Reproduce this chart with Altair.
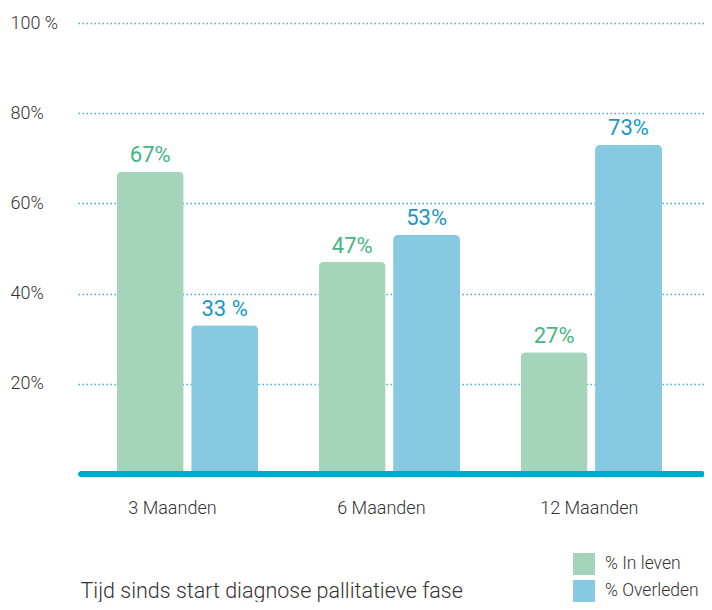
import altair as alt
import pandas as pd

categories = ["3 Maanden", "6 Maanden", "12 Maanden"]
series = ["% In leven", "% Overleden"]
in_leven = [67, 47, 27]
overleden = [33, 53, 73]
label_in_leven = ["67%", "47%", "27%"]
label_overleden = ["33 %", "53%", "73%"]
y_ticks = [20, 40, 60, 80, 100]

rows = []
for i, c in enumerate(categories):
    rows.append({"cat": c, "series": series[0], "value": in_leven[i], "label": label_in_leven[i]})
    rows.append({"cat": c, "series": series[1], "value": overleden[i], "label": label_overleden[i]})
df = pd.DataFrame(rows)

GREEN = "#a4d4ba"
BLUE = "#87c9e0"
GREEN_TXT = "#45b583"
BLUE_TXT = "#1798c2"
FONT = "Roboto"

W, H = 626, 451

x_enc = alt.X(
    "cat:N", sort=categories,
    scale=alt.Scale(paddingInner=0.3, paddingOuter=0.2, align=0.48),
    axis=alt.Axis(
        title="Tijd sinds start diagnose pallitatieve fase",
        titleAnchor="start", titleAlign="left", titleX=2, titleY=123,
        titleBaseline="alphabetic", titleFontSize=21.5, titleFontWeight=300,
        titleColor="#333333", titleFont=FONT,
        labelAngle=0, labelFontSize=18, labelFontWeight=300, labelFont=FONT,
        labelColor="#333333", labelPadding=25, domain=False, ticks=False,
        labelOffset={"condition": [
            {"test": "datum.value === '3 Maanden'", "value": -15},
            {"test": "datum.value === '6 Maanden'", "value": -8},
        ], "value": -2},
    ),
)
xoff = alt.XOffset("series:N", sort=series, scale=alt.Scale(paddingInner=0.1))

y_axis = alt.Axis(
    values=y_ticks, grid=True, gridColor="#3fb0d0", gridDash=[1.5, 2.5], gridWidth=1.5,
    domain=False, ticks=False, title=None,
    labelAlign="left", labelPadding=68, labelBaseline="middle",
    labelFontSize=18, labelFontWeight=300, labelFont=FONT, labelColor="#333333",
    labelExpr="datum.value == 100 ? '100 %' : datum.value + '%'",
)
y_scale = alt.Scale(domain=[0, 100], nice=False)

bars = alt.Chart(df).mark_bar(
    cornerRadiusTopLeft=5, cornerRadiusTopRight=5
).encode(
    x=x_enc, xOffset=xoff,
    y=alt.Y("value:Q", scale=y_scale, axis=y_axis),
    color=alt.Color(
        "series:N", sort=series,
        scale=alt.Scale(domain=series, range=[GREEN, BLUE]),
        legend=alt.Legend(
            title=None, orient="none", legendX=495, legendY=530,
            symbolType="square", symbolSize=484, symbolStrokeWidth=0,
            symbolOpacity=1, labelFontSize=17.5, labelFontWeight=300,
            labelFont=FONT, labelColor="#333333", labelOffset=10, rowPadding=5,
        ),
    ),
)

text = alt.Chart(df).mark_text(
    baseline="alphabetic", dy=-9.5, fontSize=22, font=FONT, fontWeight=400
).encode(
    x=alt.X("cat:N", sort=categories),
    xOffset=alt.XOffset("series:N", sort=series),
    y=alt.Y("value:Q", scale=y_scale, axis=y_axis),
    text="label:N",
    color=alt.condition(f"datum.series == '{series[0]}'", alt.value(GREEN_TXT), alt.value(BLUE_TXT)),
)

baseline = alt.Chart(df).mark_rule(
    color="#00a6cf", strokeWidth=5, strokeCap="round"
).encode(
    y=alt.YDatum(0, scale=y_scale, axis=y_axis), x=alt.value(3), x2=alt.value(W - 2),
)

chart = alt.layer(bars, text, baseline).properties(
    width=W, height=H,
    autosize=alt.AutoSizeParams(type="none"),
    padding={"left": 70, "top": 15, "right": 0, "bottom": 128},
).configure_view(stroke=None)

chart.save("out.html", embed_options={"renderer": "svg", "actions": False})
